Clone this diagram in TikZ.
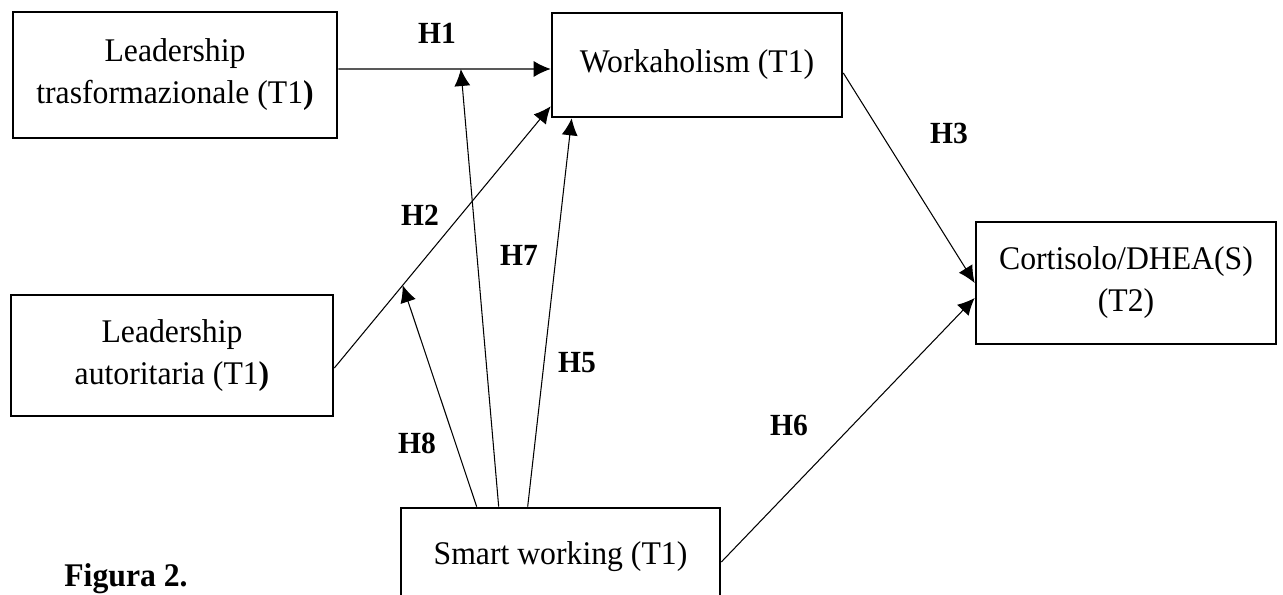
\documentclass[tikz,border=0pt]{standalone}
\usepackage{fontspec}
\setmainfont{Liberation Serif}[FakeStretch=0.96]
\usetikzlibrary{arrows.meta}

\begin{document}
\begin{tikzpicture}[font=\fontsize{18.8}{23.9}\selectfont,
    box/.style={rectangle,draw,line width=1.5pt,align=center,inner sep=0pt},
    link/.style={-{Latex[length=0.34cm,width=0.32cm]},line width=0.6pt},
    hyp/.style={font=\fontsize{17.5}{20}\selectfont\bfseries}]
    \useasboundingbox (0,0) rectangle (25.66,-11.9);
    \clip (0,0) rectangle (25.66,-11.9);

    % nodes
    \node (lt) at (3.5,-1.5) [box,minimum width=6.48cm,minimum height=2.52cm] {Leadership \\ trasformazionale (T1\textbf{)}};
    \node (la) at (3.44,-7.11) [box,minimum width=6.44cm,minimum height=2.42cm] {Leadership \\ autoritaria (T1\textbf{)}};
    \node (wk) at (13.94,-1.3) [box,minimum width=5.8cm,minimum height=2.08cm] {Workaholism (T1)};
    \node (cs) at (22.52,-5.66) [box,minimum width=6cm,minimum height=2.44cm] {Cortisolo/DHEA(S) \\ (T2)};
    \node (sw) at (11.21,-11.13) [box,minimum width=6.38cm,minimum height=1.94cm] {Smart working (T1)};

    % paths
    \draw[link] ([yshift=0.12cm]lt.east) -- coordinate[pos=0.577] (m1) ([yshift=-0.08cm]wk.west);
    \draw[link] ([yshift=-0.25cm]la.east) -- coordinate[pos=0.316] (m2) ([yshift=0.24cm]wk.south west);
    \draw[link] ([yshift=-0.16cm]wk.east) to (cs.west);
    \draw[link] ([xshift=2.56cm]sw.north west) to ([xshift=0.42cm]wk.south west);
    \draw[link] ([yshift=-0.11cm]sw.east) to ([yshift=-0.3cm]cs.west);
    \draw[link] ([xshift=1.98cm]sw.north west) to (m1);
    \draw[link] ([xshift=1.54cm]sw.north west) to (m2);

    % labels
    \node (h1) at (8.74,-0.66) [hyp] {H1};
    \node (h2) at (8.4,-4.3) [hyp] {H2};
    \node (h3) at (18.98,-2.66) [hyp] {H3};
    \node (h5) at (11.54,-7.26) [hyp] {H5};
    \node (h6) at (15.78,-8.5) [hyp] {H6};
    \node (h7) at (10.38,-5.1) [hyp] {H7};
    \node (h8) at (8.34,-8.86) [hyp] {H8};
    \node (fig) at (2.52,-11.58) [font=\fontsize{18.8}{23.9}\selectfont\bfseries,inner sep=0pt] {Figura 2.};
\end{tikzpicture}
\end{document}
